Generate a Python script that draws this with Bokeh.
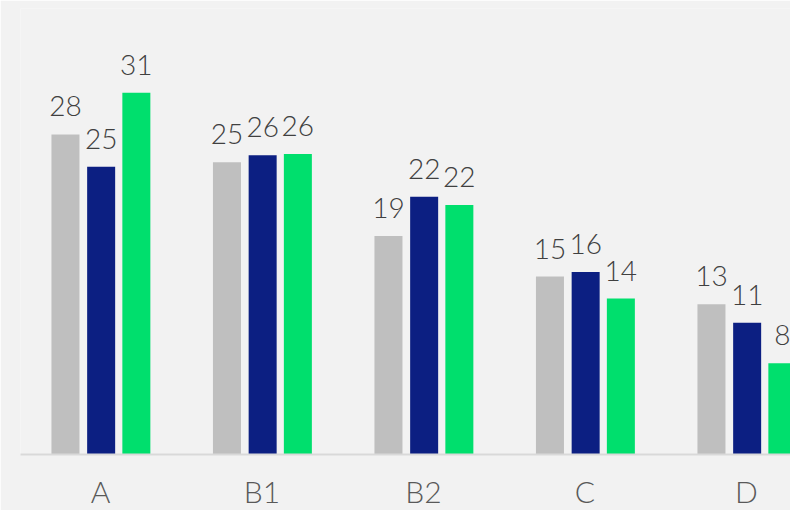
from bokeh.plotting import figure
from bokeh.models import ColumnDataSource, Range1d, FixedTicker
from bokeh.core.properties import value
from bokeh.embed import file_html
from bokeh.resources import INLINE

categories = ["A", "B1", "B2", "C", "D"]
series1 = [27.7, 25.3, 18.9, 15.4, 13.0]
series2 = [24.9, 25.9, 22.3, 15.8, 11.4]
series3 = [31.3, 26.0, 21.6, 13.5, 7.9]
labels1 = ["28", "25", "19", "15", "13"]
labels2 = ["25", "26", "22", "16", "11"]
labels3 = ["31", "26", "22", "14", "8"]
colors = ["#bfbfbf", "#0c1f82", "#00df6d"]
offsets = [-0.217, 0.004, 0.222]

FONT = "'Lato Light', Lato"

p = figure(frame_width=770, frame_height=446, output_backend="svg",
           toolbar_location=None, min_border_left=20, min_border_right=0,
           min_border_top=8, min_border_bottom=0,
           x_range=Range1d(-0.4954, 4.2724), y_range=Range1d(0, 38.6))
p.background_fill_color = "#f2f2f2"
p.border_fill_color = "#f2f2f2"
p.outline_line_color = None
p.xgrid.visible = False
p.ygrid.visible = False
p.yaxis.visible = False

xs = list(range(len(categories)))
for vals, labs, col, off in zip([series1, series2, series3],
                                [labels1, labels2, labels3], colors, offsets):
    src = ColumnDataSource(dict(x=[x + off for x in xs], top=vals, lab=labs))
    p.vbar(x="x", top="top", bottom=0, width=0.1734, source=src,
           fill_color=col, line_color=None)
    p.text(x="x", y="top", text="lab", source=src, text_align="center",
           text_baseline="alphabetic", y_offset=-28,
           text_font=value(FONT), text_font_size="28px", text_color="#404040")

ax = p.xaxis[0]
ax.ticker = FixedTicker(ticks=xs)
ax.major_label_overrides = {i: c for i, c in enumerate(categories)}
ax.axis_line_color = "#d9d9d9"
ax.axis_line_width = 2
ax.major_tick_line_color = None
ax.minor_tick_line_color = None
ax.major_tick_out = 0
ax.major_tick_in = 0
ax.major_label_standoff = 18
ax.major_label_text_font = FONT
ax.major_label_text_font_size = "30px"
ax.major_label_text_color = "#595959"

open("out.html", "w").write(file_html(p, INLINE))
